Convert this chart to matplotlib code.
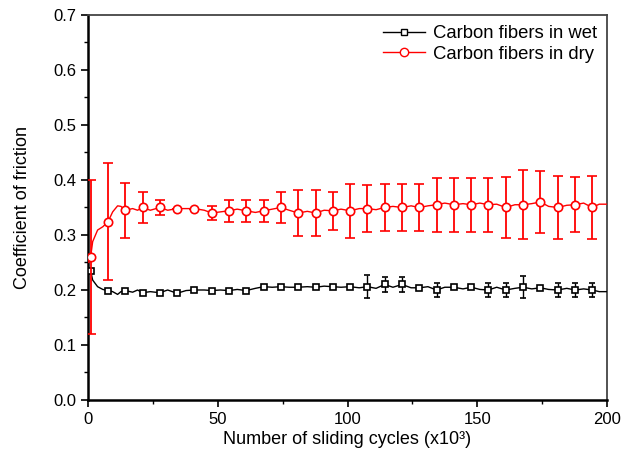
import matplotlib
matplotlib.use("Agg")
import matplotlib.pyplot as plt
from matplotlib.lines import Line2D
from matplotlib.ticker import MultipleLocator

plt.rcParams['font.family'] = ['Liberation Sans', 'DejaVu Sans']

# marker positions (x10^3 cycles)
mark_x = [1, 7.7, 14.3, 21, 27.7, 34.3, 41, 47.7, 54.3, 61, 67.7, 74.3, 81, 87.7, 94.3,
          101, 107.7, 114.3, 121, 127.7, 134.3, 141, 147.7, 154.3, 161, 167.7, 174.3,
          181, 187.7, 194.3]

wet_mark = [0.235, 0.199, 0.199, 0.195, 0.195, 0.194, 0.200, 0.199, 0.199, 0.199,
            0.206, 0.206, 0.205, 0.205, 0.206, 0.206, 0.206, 0.210, 0.210, 0.204,
            0.200, 0.205, 0.205, 0.200, 0.200, 0.205, 0.204, 0.200, 0.200, 0.200]
wet_err = [0, 0, 0, 0.004, 0.004, 0.004, 0, 0, 0, 0,
           0.003, 0.003, 0.003, 0.003, 0.003, 0.003, 0.021, 0.013, 0.013, 0.004,
           0.0125, 0.003, 0.003, 0.012, 0.012, 0.02, 0.003, 0.012, 0.012, 0.012]

dry_mark = [0.26, 0.324, 0.345, 0.350, 0.350, 0.348, 0.348, 0.340, 0.344, 0.344,
            0.344, 0.350, 0.340, 0.340, 0.344, 0.344, 0.348, 0.350, 0.350, 0.350,
            0.355, 0.355, 0.355, 0.355, 0.350, 0.355, 0.360, 0.350, 0.355, 0.350]
dry_err = [0.14, 0.106, 0.05, 0.028, 0.014, 0, 0, 0.013, 0.02, 0.02,
           0.02, 0.028, 0.042, 0.042, 0.035, 0.049, 0.042, 0.042, 0.042, 0.042,
           0.049, 0.049, 0.049, 0.049, 0.056, 0.063, 0.057, 0.057, 0.05, 0.057]

# continuous friction traces
line_x = [0.3, 1, 1.8, 3.7, 5.7, 7.7, 9.5, 11.4, 12.7, 14.3, 17.2, 19.1, 21, 24, 27.7,
          30.7, 34.3, 37.8, 41, 44.8, 47.7, 51, 54.3, 57.5, 61, 64.5, 67.7, 71, 74.3,
          77.5, 81, 84.5, 87.7, 91, 94.3, 97.5, 101, 104.5, 107.7, 111, 114.3, 117.5,
          121, 124.5, 127.7, 131, 134.3, 137.5, 141, 144.5, 147.7, 151, 154.3, 157.5,
          161, 164.5, 167.7, 171, 174.3, 177.5, 181, 184.5, 187.7, 191, 194.3, 197, 200]

dry_line = [0.25, 0.26, 0.288, 0.309, 0.315, 0.324, 0.342, 0.353, 0.352, 0.345, 0.348,
            0.345, 0.350, 0.345, 0.350, 0.345, 0.348, 0.348, 0.348, 0.345, 0.340, 0.342,
            0.344, 0.347, 0.344, 0.341, 0.344, 0.347, 0.350, 0.345, 0.340, 0.343, 0.340,
            0.345, 0.344, 0.347, 0.344, 0.348, 0.348, 0.346, 0.350, 0.352, 0.350, 0.353,
            0.350, 0.353, 0.355, 0.358, 0.355, 0.357, 0.355, 0.358, 0.355, 0.356, 0.350,
            0.355, 0.355, 0.357, 0.360, 0.352, 0.350, 0.354, 0.355, 0.358, 0.350, 0.356,
            0.356]

wet_line = [0.24, 0.235, 0.218, 0.206, 0.201, 0.199, 0.197, 0.192, 0.197, 0.199, 0.196,
            0.200, 0.195, 0.197, 0.195, 0.200, 0.194, 0.199, 0.200, 0.200, 0.199, 0.200,
            0.199, 0.201, 0.199, 0.203, 0.206, 0.205, 0.206, 0.205, 0.205, 0.206, 0.205,
            0.207, 0.206, 0.205, 0.206, 0.204, 0.206, 0.203, 0.210, 0.205, 0.210, 0.204,
            0.204, 0.206, 0.200, 0.205, 0.205, 0.202, 0.205, 0.201, 0.200, 0.205, 0.200,
            0.203, 0.205, 0.202, 0.204, 0.201, 0.200, 0.203, 0.200, 0.202, 0.200, 0.197,
            0.197]

fig = plt.figure(figsize=(6.22, 4.68), dpi=100)
ax = fig.add_axes([0.1415, 0.1453, 0.8344, 0.8227])

# wet
ax.plot(line_x, wet_line, color='black', lw=1.0, zorder=3)
ax.errorbar(mark_x, wet_mark, yerr=wet_err, fmt='s', ms=5, mfc='white', mec='black',
            mew=1.2, ecolor='black', elinewidth=1.0, capsize=2.5, capthick=1.0, zorder=4)

# dry
ax.plot(line_x, dry_line, color='red', lw=1.0, zorder=5)
ax.errorbar(mark_x, dry_mark, yerr=dry_err, fmt='o', ms=6, mfc='white', mec='red',
            mew=1.2, ecolor='red', elinewidth=1.3, capsize=3.5, capthick=1.3, zorder=6)

ax.set_xlim(0, 200)
ax.set_ylim(0, 0.7)
ax.xaxis.set_major_locator(MultipleLocator(50))
ax.xaxis.set_minor_locator(MultipleLocator(25))
ax.yaxis.set_major_locator(MultipleLocator(0.1))
ax.yaxis.set_minor_locator(MultipleLocator(0.05))
ax.yaxis.set_major_formatter(plt.FormatStrFormatter('%.1f'))

ax.tick_params(which='major', direction='out', length=5, width=1.2, labelsize=12, colors='black')
ax.tick_params(which='minor', direction='out', length=3, width=1.0)
ax.tick_params(top=False, right=False, which='both')

for s in ['left', 'bottom']:
    ax.spines[s].set_linewidth(1.8)
    ax.spines[s].set_color('black')
for s in ['top', 'right']:
    ax.spines[s].set_linewidth(1.3)
    ax.spines[s].set_color('#444444')

ax.set_xlabel('Number of sliding cycles (x10³)', fontsize=13, labelpad=3)
ax.set_ylabel('Coefficient of friction', fontsize=13, labelpad=16)

handles = [
    Line2D([], [], color='black', lw=1.0, marker='s', ms=5, mfc='white', mec='black'),
    Line2D([], [], color='red', lw=1.0, marker='o', ms=6, mfc='white', mec='red'),
]
ax.legend(handles, ['Carbon fibers in wet', 'Carbon fibers in dry'], loc='upper right',
          bbox_to_anchor=(1.0, 1.0), frameon=False, fontsize=13.3, handlelength=2.3,
          handletextpad=0.4, labelspacing=0.2, borderaxespad=0.15)

fig.savefig('out.png', dpi=100)
